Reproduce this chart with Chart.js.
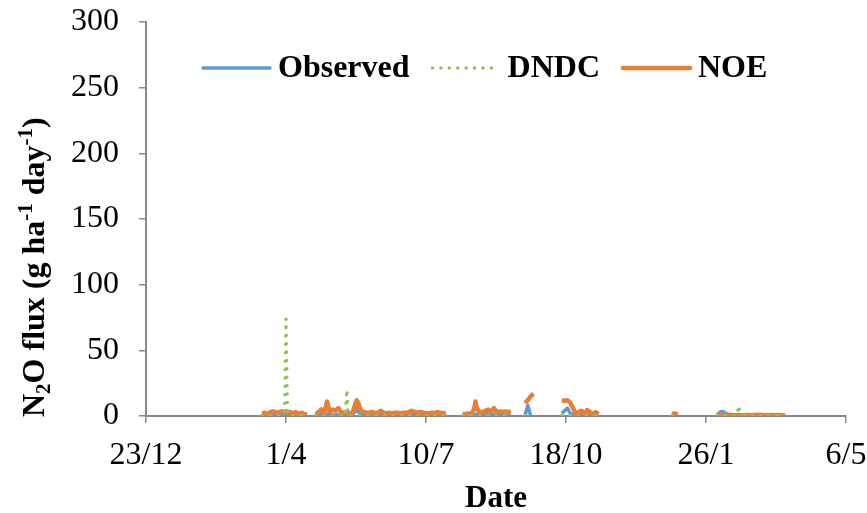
<!DOCTYPE html>
<html lang="en">
<head>
<meta charset="UTF-8">
<script src="https://cdn.jsdelivr.net/npm/chart.js"></script>
<title>N2O flux</title>
<style>
    body { margin: 0; background: #fff; }
    #wrap { width: 867px; height: 513px; }
</style>
</head>
<body>
<div id="wrap"><canvas id="flux-chart"></canvas></div>
<script>
    // x = days counted from 23/12
    const xTickDays = [0, 99, 198, 297, 396, 495];
    const xTickLabels = ['23/12', '1/4', '10/7', '18/10', '26/1', '6/5'];

    // null rows break the lines between measurement periods
    const days = [
        82, 84, 86, 88, 90, 92, 94, 96, 98, 99, 100, 102, 104, 106, 108, 110, 112, 114, 117,
        120, 122, 124, 126, 128, 130, 132, 134, 136, 138, 140, 141, 142, 143, 144, 146, 148, 149,
        150, 152, 154, 156, 158, 160, 162, 164, 166, 168, 170, 172, 174, 176, 178, 180, 182, 184,
        186, 188, 190, 192, 194, 196, 198, 200, 202, 204, 206, 208, 210, 212, 218,
        224, 226, 228, 230, 232, 233, 234, 236, 238, 240, 242, 244, 246, 248, 250, 252, 254, 256, 258, 263,
        268, 270, 272, 274, 285,
        294, 296, 298, 300, 302, 304, 306, 308, 310, 312, 314, 316, 318, 320, 345,
        372, 374, 376, 390,
        404, 406, 408, 410, 412, 414, 416, 418, 419, 420, 422, 424, 426, 428, 430, 432, 434, 436,
        438, 440, 442, 444, 446, 448, 450, 452
    ];

    const observed = [
        0.5, 0.8, 0.5, 1, 0.6, 0.8, 0.5, 0.7, 0.6, 0.8, 0.5, 0.7, 0.6, 0.9, 0.5, 0.8, 0.6, 0.7, null,
        0.5, 0.8, 1, 0.6, 1.5, 0.8, 1, 0.7, 1.2, 0.6, 0.5, 0.6, 0.5, 0.7, 0.5, 0.8, 4, 8,
        3, 1, 0.8, 0.6, 0.7, 1, 0.6, 0.8, 1.2, 0.7, 0.5, 0.8, 0.6, 0.7, 1, 0.6, 0.8, 0.7,
        1, 1.5, 1, 0.8, 1.2, 0.7, 0.6, 0.5, 0.8, 0.6, 1, 0.7, 0.5, 0.8, null,
        0.3, 0.5, 0.3, 0.6, 0.8, 1, 1.5, 2, 1, 3, 1, 2, 1, 0.5, 0.6, 0.4, 0.5, 0.3, 0.4, null,
        0.3, 8, 0.3, null, null,
        2, 4, 6, 2, 1, 2, 3, 1, 0.5, 1, 0.5, 0.3, 0.5, 0.3, null,
        1, 1.5, 0.5, null,
        1, 3, 3.5, 2, 1, 0.8, 0.5, 0.6, 0.5, 0.7, 0.5, 0.6, 0.5, 0.4, 0.6, 0.5, 0.7, 0.5,
        0.4, 0.5, 0.6, 0.4, 0.5, 0.4, 0.5, 0.3
    ];

    const dndc = [
        0.3, 0.3, 0.5, 0.3, 0.4, 0.3, 0.5, 0.4, 2, 74, 3, 0.5, 0.4, 0.3, 0.5, 0.4, 0.3, 0.4, null,
        0.4, 0.3, 0.5, 0.3, 0.4, 0.3, 0.5, 0.4, 0.3, 0.4, 0.5, 0.5, 20, 0.5, 0.4, 0.3, 0.4, 0.5,
        0.4, 0.3, 0.5, 0.4, 0.3, 0.4, 0.5, 0.3, 0.4, 0.3, 0.5, 0.4, 0.3, 0.4, 0.5, 0.3, 0.4, 0.3,
        0.5, 0.4, 0.3, 0.4, 0.5, 0.3, 0.4, 0.3, 0.5, 0.4, 0.3, 0.4, 0.5, 0.3, null,
        0.3, 0.4, 0.3, 0.4, 0.3, 0.4, 0.3, 0.4, 0.3, 0.4, 0.3, 0.4, 0.3, 0.4, 0.3, 0.4, 0.3, 0.4, 0.3, null,
        0.3, 0.4, 0.3, null, null,
        0.3, 0.4, 0.3, 0.4, 0.3, 0.4, 0.3, 0.4, 0.3, 0.4, 0.3, 0.4, 0.3, 0.4, null,
        0.3, 0.3, 0.3, null,
        0.3, 0.4, 0.3, 0.4, 0.3, 0.4, 0.3, 0.5, 8, 3, 0.4, 0.3, 0.4, 0.3, 0.4, 0.3, 0.4, 0.3,
        0.4, 0.3, 0.4, 0.3, 0.4, 0.3, 0.4, 0.3
    ];

    const noe = [
        2, 2.5, 1.5, 3, 3.5, 2.5, 3, 3.5, 3, 3.5, 2.5, 3, 2, 3, 1.5, 2.5, 1, 1.5, null,
        1.5, 3, 5, 2, 11, 3, 5, 4, 6, 3, 2.5, 3, 3, 2.5, 2, 2.5, 9, 12,
        10, 4, 3, 2.5, 2.5, 3, 2, 2.5, 4, 2.5, 2, 2.5, 2, 2.5, 2.5, 2, 2.5, 2.5,
        3, 4, 3, 2.5, 3, 2.5, 2, 2, 2.5, 2, 3, 2.5, 2, 2.5, null,
        1.5, 1.5, 2, 1.5, 5, 11, 6, 2.5, 3, 4, 5, 3, 6, 3, 3.5, 3, 3.5, 3, 3, null,
        10, 12, 15, 17, null,
        12, 11.5, 12, 10, 6, 1.5, 3, 4, 2, 4.5, 3, 1.5, 3, 1.5, null,
        1.5, 2, 1, null,
        0.8, 1, 0.8, 0.6, 0.7, 0.8, 0.6, 0.7, 0.8, 0.7, 0.6, 0.8, 0.7, 0.6, 0.8, 0.7, 1, 0.7,
        0.6, 0.8, 0.7, 0.6, 0.8, 0.7, 0.6, 0.5
    ];

    // y axis title pieces: 0 normal, 1 subscript, 2 superscript
    const yTitleParts = [['N', 0], ['2', 1], ['O flux (g ha', 0], ['-1', 2], [' day', 0], ['-1', 2], [')', 0]];

    const serif = '"Liberation Serif", "Times New Roman", serif';
    const axisGrey = '#898989';

    function toPoints(values) {
        return days.map((d, i) => ({ x: d, y: values[i] }));
    }

    const extrasPlugin = {
        id: 'extras',
        afterDraw(chart) {
            const ctx = chart.ctx;

            // legend inside the plot
            ctx.save();
            ctx.font = 'bold 32px ' + serif;
            ctx.textBaseline = 'middle';
            ctx.textAlign = 'left';
            let x = 203;
            const y = 68;
            chart.data.datasets.forEach(ds => {
                ctx.save();
                ctx.strokeStyle = ds.borderColor;
                ctx.lineWidth = ds.borderWidth;
                ctx.lineCap = 'round';
                ctx.setLineDash(ds.borderDash || []);
                ctx.beginPath();
                ctx.moveTo(x, y);
                ctx.lineTo(x + 67, y);
                ctx.stroke();
                ctx.restore();
                ctx.fillStyle = '#000';
                ctx.fillText(ds.label, x + 75, y + 1);
                x += 75 + ctx.measureText(ds.label).width + 23;
            });
            ctx.restore();

            // y axis title with sub/superscripts
            ctx.save();
            ctx.translate(44, 417);
            ctx.rotate(-Math.PI / 2);
            ctx.fillStyle = '#000';
            ctx.textBaseline = 'alphabetic';
            let pos = 0;
            yTitleParts.forEach(([txt, kind]) => {
                ctx.font = (kind === 0 ? 'bold 32px ' : 'bold 21px ') + serif;
                const dy = kind === 1 ? 6 : (kind === 2 ? -12 : 0);
                ctx.fillText(txt, pos, dy);
                pos += ctx.measureText(txt).width;
            });
            ctx.restore();
        }
    };

    const ctx = document.getElementById('flux-chart');

    const fluxChart = new Chart(ctx, {
        type: 'line',
        data: {
            datasets: [{
                label: 'Observed',
                data: toPoints(observed),
                borderColor: '#5b9bd5',
                borderWidth: 3.5,
                order: 3
            }, {
                label: 'DNDC',
                data: toPoints(dndc),
                borderColor: '#92bf55',
                borderWidth: 3.5,
                borderDash: [0, 8.4],
                borderCapStyle: 'round',
                order: 1
            }, {
                label: 'NOE',
                data: toPoints(noe),
                borderColor: '#ed7d31',
                borderWidth: 4.5,
                order: 2
            }]
        },
        options: {
            responsive: true,
            maintainAspectRatio: false,
            animation: false,
            spanGaps: false,
            elements: {
                point: { radius: 0 },
                line: { tension: 0, borderJoinStyle: 'round' }
            },
            layout: { padding: { top: 22, right: 21, left: 0, bottom: 0 } },
            plugins: {
                legend: { display: false },
                tooltip: { enabled: false }
            },
            scales: {
                x: {
                    type: 'linear',
                    min: 0,
                    max: 495,
                    afterBuildTicks(scale) {
                        scale.ticks = xTickDays.map(v => ({ value: v }));
                    },
                    afterFit(scale) {
                        scale.height = 97;
                        scale.paddingLeft = 0;
                        scale.paddingRight = 0;
                    },
                    ticks: {
                        autoSkip: false,
                        maxRotation: 0,
                        padding: 13,
                        color: '#000',
                        font: { family: serif, size: 32 },
                        callback: v => xTickLabels[xTickDays.indexOf(v)]
                    },
                    grid: { drawOnChartArea: false, drawTicks: true, tickLength: 7, color: axisGrey, lineWidth: 1.5 },
                    border: { display: true, color: axisGrey, width: 2 },
                    title: {
                        display: true,
                        text: 'Date',
                        color: '#000',
                        font: { family: serif, size: 31, weight: 'bold', lineHeight: 0.9 },
                        padding: { top: 0, bottom: 0 }
                    }
                },
                y: {
                    min: 0,
                    max: 300,
                    afterFit(scale) {
                        scale.width = 146;
                        scale.paddingTop = 0;
                        scale.paddingBottom = 0;
                    },
                    ticks: {
                        stepSize: 50,
                        padding: 20,
                        color: '#000',
                        font: { family: serif, size: 32 }
                    },
                    grid: { drawOnChartArea: false, drawTicks: true, tickLength: 7, color: axisGrey, lineWidth: 1.5 },
                    border: { display: true, color: axisGrey, width: 2 }
                }
            }
        },
        plugins: [extrasPlugin]
    });
</script>
</body>
</html>
